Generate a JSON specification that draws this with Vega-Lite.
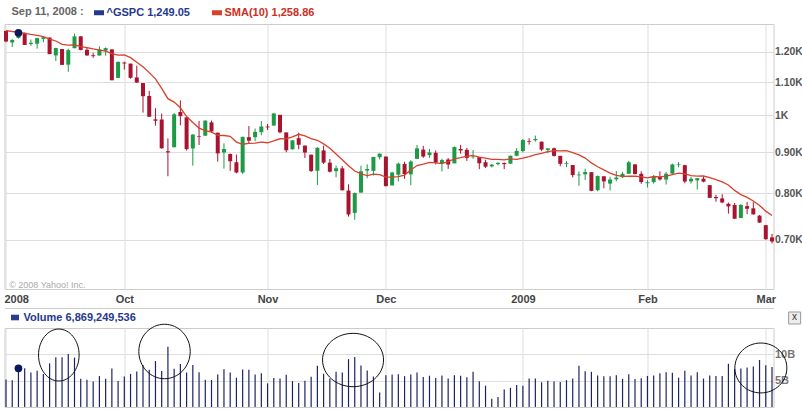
{
"$schema": "https://vega.github.io/schema/vega-lite/v6.json",
"background": "white",
"padding": {"left": 2.5, "top": 6, "right": 0, "bottom": 0},
"autosize": {"type": "pad"},
"bounds": "flush",
"spacing": 39,
"config": {
  "font": "Liberation Sans",
  "view": {"stroke": "#cccccc"},
  "axis": {"labelFont": "Liberation Sans", "labelFontSize": 11, "labelFontWeight": "bold", "labelColor": "#555555", "ticks": false, "domain": false, "gridColor": "#dddddd", "title": null}
},
"resolve": {"scale": {"x": "shared", "y": "independent", "color": "independent"}, "legend": {"color": "independent"}},
"datasets": {
"gspc": [
{"date":"2008-09-04","open":1275.0,"high":1275.0,"low":1234.4,"close":1236.83,"volume":5210000000,"sma":1276.28},
{"date":"2008-09-05","open":1233.2,"high":1244.9,"low":1217.2,"close":1242.31,"volume":5090000000,"sma":1272.74},
{"date":"2008-09-08","open":1249.5,"high":1274.4,"low":1247.1,"close":1267.79,"volume":7350000000,"sma":1270.30},
{"date":"2008-09-09","open":1267.9,"high":1268.7,"low":1224.5,"close":1224.51,"volume":7380000000,"sma":1266.07},
{"date":"2008-09-10","open":1227.5,"high":1243.9,"low":1221.6,"close":1232.04,"volume":6540000000,"sma":1262.12},
{"date":"2008-09-11","open":1229.0,"high":1249.98,"low":1211.5,"close":1249.05,"volume":6869249536,"sma":1258.86},
{"date":"2008-09-12","open":1245.9,"high":1255.1,"low":1233.8,"close":1251.70,"volume":6270000000,"sma":1253.96},
{"date":"2008-09-15","open":1250.9,"high":1250.9,"low":1192.7,"close":1192.70,"volume":8280000000,"sma":1244.95},
{"date":"2008-09-16","open":1188.3,"high":1214.8,"low":1169.3,"close":1213.60,"volume":9460000000,"sma":1238.55},
{"date":"2008-09-17","open":1210.3,"high":1210.3,"low":1155.9,"close":1156.39,"volume":9430000000,"sma":1226.69},
{"date":"2008-09-18","open":1157.1,"high":1211.1,"low":1133.5,"close":1206.51,"volume":10080000000,"sma":1223.66},
{"date":"2008-09-19","open":1213.1,"high":1265.1,"low":1213.1,"close":1255.08,"volume":9390000000,"sma":1224.94},
{"date":"2008-09-22","open":1255.4,"high":1255.4,"low":1205.6,"close":1207.09,"volume":5370000000,"sma":1218.87},
{"date":"2008-09-23","open":1207.6,"high":1214.0,"low":1187.2,"close":1188.22,"volume":5190000000,"sma":1215.24},
{"date":"2008-09-24","open":1188.8,"high":1197.4,"low":1179.8,"close":1185.87,"volume":4820000000,"sma":1210.62},
{"date":"2008-09-25","open":1187.9,"high":1220.0,"low":1187.9,"close":1209.18,"volume":5880000000,"sma":1206.63},
{"date":"2008-09-26","open":1204.5,"high":1215.8,"low":1187.5,"close":1213.27,"volume":5380000000,"sma":1202.79},
{"date":"2008-09-29","open":1209.1,"high":1209.1,"low":1106.4,"close":1106.39,"volume":7310000000,"sma":1194.16},
{"date":"2008-09-30","open":1113.8,"high":1168.0,"low":1113.8,"close":1166.36,"volume":4940000000,"sma":1189.44},
{"date":"2008-10-01","open":1164.2,"high":1167.0,"low":1140.8,"close":1161.06,"volume":5780000000,"sma":1189.90},
{"date":"2008-10-02","open":1160.6,"high":1160.6,"low":1111.4,"close":1114.28,"volume":6290000000,"sma":1180.68},
{"date":"2008-10-03","open":1115.2,"high":1153.8,"low":1098.1,"close":1099.23,"volume":6720000000,"sma":1165.10},
{"date":"2008-10-06","open":1097.6,"high":1097.6,"low":1008.0,"close":1056.89,"volume":7960000000,"sma":1150.08},
{"date":"2008-10-07","open":1057.6,"high":1072.9,"low":996.2,"close":996.23,"volume":7070000000,"sma":1130.88},
{"date":"2008-10-08","open":988.9,"high":1021.1,"low":971.0,"close":984.94,"volume":8720000000,"sma":1110.78},
{"date":"2008-10-09","open":988.4,"high":1005.3,"low":909.2,"close":909.92,"volume":6820000000,"sma":1080.86},
{"date":"2008-10-10","open":902.3,"high":936.4,"low":839.8,"close":899.22,"volume":11460000000,"sma":1049.45},
{"date":"2008-10-13","open":912.75,"high":1006.9,"low":912.75,"close":1003.35,"volume":7260000000,"sma":1039.15},
{"date":"2008-10-14","open":1010.0,"high":1044.3,"low":972.1,"close":998.01,"volume":8160000000,"sma":1022.31},
{"date":"2008-10-15","open":994.6,"high":994.6,"low":904.0,"close":907.84,"volume":6540000000,"sma":996.99},
{"date":"2008-10-16","open":909.5,"high":947.7,"low":865.8,"close":946.43,"volume":7980000000,"sma":980.21},
{"date":"2008-10-17","open":942.3,"high":984.6,"low":918.7,"close":940.55,"volume":6580000000,"sma":964.34},
{"date":"2008-10-20","open":943.5,"high":985.4,"low":943.5,"close":985.40,"volume":5180000000,"sma":957.19},
{"date":"2008-10-21","open":980.4,"high":985.4,"low":952.5,"close":955.05,"volume":5120000000,"sma":953.07},
{"date":"2008-10-22","open":951.7,"high":951.7,"low":875.8,"close":896.78,"volume":6150000000,"sma":944.26},
{"date":"2008-10-23","open":899.1,"high":922.8,"low":858.4,"close":908.11,"volume":7190000000,"sma":944.07},
{"date":"2008-10-24","open":895.2,"high":896.3,"low":852.9,"close":876.77,"volume":6550000000,"sma":941.83},
{"date":"2008-10-27","open":874.3,"high":893.8,"low":846.8,"close":848.92,"volume":5560000000,"sma":926.39},
{"date":"2008-10-28","open":848.9,"high":940.5,"low":845.3,"close":940.51,"volume":7100000000,"sma":920.64},
{"date":"2008-10-29","open":939.5,"high":970.0,"low":922.3,"close":930.09,"volume":7080000000,"sma":922.86},
{"date":"2008-10-30","open":939.4,"high":963.2,"low":928.5,"close":954.09,"volume":6180000000,"sma":923.63},
{"date":"2008-10-31","open":953.1,"high":984.4,"low":944.6,"close":968.75,"volume":6390000000,"sma":926.45},
{"date":"2008-11-03","open":968.7,"high":975.6,"low":958.8,"close":966.30,"volume":4490000000,"sma":924.54},
{"date":"2008-11-04","open":971.3,"high":1007.5,"low":971.3,"close":1005.75,"volume":5530000000,"sma":929.61},
{"date":"2008-11-05","open":1001.8,"high":1001.8,"low":949.9,"close":952.77,"volume":5430000000,"sma":935.21},
{"date":"2008-11-06","open":952.4,"high":952.4,"low":899.7,"close":904.88,"volume":6100000000,"sma":934.88},
{"date":"2008-11-07","open":907.4,"high":931.5,"low":906.9,"close":930.99,"volume":4930000000,"sma":940.31},
{"date":"2008-11-10","open":936.75,"high":951.95,"low":907.5,"close":919.21,"volume":4570000000,"sma":947.33},
{"date":"2008-11-11","open":917.15,"high":917.15,"low":884.9,"close":898.95,"volume":4990000000,"sma":943.18},
{"date":"2008-11-12","open":893.4,"high":893.4,"low":850.5,"close":852.30,"volume":5760000000,"sma":935.40},
{"date":"2008-11-13","open":853.1,"high":913.0,"low":818.7,"close":911.29,"volume":7850000000,"sma":931.12},
{"date":"2008-11-14","open":904.4,"high":916.9,"low":869.9,"close":873.29,"volume":6300000000,"sma":921.57},
{"date":"2008-11-17","open":873.2,"high":882.3,"low":849.0,"close":850.75,"volume":5400000000,"sma":910.02},
{"date":"2008-11-18","open":852.3,"high":865.9,"low":837.3,"close":859.12,"volume":6680000000,"sma":895.36},
{"date":"2008-11-19","open":859.0,"high":864.6,"low":806.2,"close":806.58,"volume":6550000000,"sma":880.74},
{"date":"2008-11-20","open":805.9,"high":820.5,"low":747.8,"close":752.44,"volume":9090000000,"sma":865.49},
{"date":"2008-11-21","open":755.8,"high":801.2,"low":741.0,"close":800.03,"volume":9500000000,"sma":852.40},
{"date":"2008-11-24","open":801.2,"high":865.6,"low":801.2,"close":851.81,"volume":7880000000,"sma":845.66},
{"date":"2008-11-25","open":853.4,"high":868.9,"low":835.0,"close":857.39,"volume":6950000000,"sma":841.50},
{"date":"2008-11-26","open":852.9,"high":887.7,"low":841.4,"close":887.68,"volume":5790000000,"sma":845.04},
{"date":"2008-11-28","open":886.9,"high":896.25,"low":881.2,"close":896.24,"volume":2740000000,"sma":843.53},
{"date":"2008-12-01","open":888.6,"high":888.6,"low":815.7,"close":816.21,"volume":6050000000,"sma":837.83},
{"date":"2008-12-02","open":817.9,"high":850.5,"low":817.9,"close":848.81,"volume":6170000000,"sma":837.63},
{"date":"2008-12-03","open":843.6,"high":873.1,"low":827.6,"close":870.74,"volume":6220000000,"sma":838.79},
{"date":"2008-12-04","open":869.75,"high":875.6,"low":833.6,"close":845.22,"volume":5860000000,"sma":842.66},
{"date":"2008-12-05","open":844.4,"high":879.4,"low":818.4,"close":876.07,"volume":6170000000,"sma":855.02},
{"date":"2008-12-08","open":882.7,"high":918.6,"low":882.7,"close":909.70,"volume":6550000000,"sma":865.99},
{"date":"2008-12-09","open":906.5,"high":916.3,"low":885.4,"close":888.67,"volume":5690000000,"sma":869.67},
{"date":"2008-12-10","open":892.2,"high":908.3,"low":885.45,"close":899.24,"volume":5940000000,"sma":873.86},
{"date":"2008-12-11","open":898.35,"high":904.6,"low":868.7,"close":873.59,"volume":5510000000,"sma":872.45},
{"date":"2008-12-12","open":871.8,"high":883.2,"low":851.35,"close":879.73,"volume":5960000000,"sma":870.80},
{"date":"2008-12-15","open":881.1,"high":884.6,"low":857.7,"close":868.57,"volume":5410000000,"sma":876.03},
{"date":"2008-12-16","open":871.5,"high":914.7,"low":871.5,"close":913.18,"volume":6010000000,"sma":882.47},
{"date":"2008-12-17","open":908.2,"high":918.85,"low":895.9,"close":904.42,"volume":5910000000,"sma":885.84},
{"date":"2008-12-18","open":905.98,"high":911.0,"low":877.4,"close":885.28,"volume":5670000000,"sma":889.85},
{"date":"2008-12-19","open":886.96,"high":905.5,"low":883.0,"close":887.88,"volume":6710000000,"sma":891.03},
{"date":"2008-12-22","open":887.2,"high":887.4,"low":857.1,"close":871.63,"volume":4870000000,"sma":887.22},
{"date":"2008-12-23","open":874.3,"high":880.4,"low":860.1,"close":863.16,"volume":4050000000,"sma":884.67},
{"date":"2008-12-24","open":863.9,"high":869.8,"low":861.4,"close":868.15,"volume":1550000000,"sma":881.56},
{"date":"2008-12-26","open":869.5,"high":873.7,"low":866.5,"close":872.80,"volume":1880000000,"sma":881.48},
{"date":"2008-12-29","open":872.4,"high":873.7,"low":857.1,"close":869.42,"volume":3320000000,"sma":880.45},
{"date":"2008-12-30","open":870.6,"high":891.1,"low":870.6,"close":890.64,"volume":3630000000,"sma":882.66},
{"date":"2008-12-31","open":890.6,"high":910.3,"low":889.4,"close":903.25,"volume":4170000000,"sma":881.66},
{"date":"2009-01-02","open":902.99,"high":934.7,"low":899.35,"close":931.80,"volume":4050000000,"sma":884.40},
{"date":"2009-01-05","open":929.2,"high":936.6,"low":919.5,"close":927.45,"volume":5410000000,"sma":888.62},
{"date":"2009-01-06","open":931.2,"high":943.85,"low":927.3,"close":934.70,"volume":5390000000,"sma":893.30},
{"date":"2009-01-07","open":927.45,"high":927.45,"low":902.4,"close":906.65,"volume":4700000000,"sma":896.80},
{"date":"2009-01-08","open":905.7,"high":910.0,"low":896.8,"close":909.73,"volume":4990000000,"sma":901.46},
{"date":"2009-01-09","open":909.9,"high":911.9,"low":888.3,"close":890.35,"volume":4830000000,"sma":903.68},
{"date":"2009-01-12","open":890.4,"high":890.4,"low":864.3,"close":870.26,"volume":4730000000,"sma":903.43},
{"date":"2009-01-13","open":869.8,"high":877.0,"low":862.0,"close":871.79,"volume":5100000000,"sma":903.66},
{"date":"2009-01-14","open":867.3,"high":867.3,"low":836.9,"close":842.62,"volume":5410000000,"sma":898.86},
{"date":"2009-01-15","open":841.99,"high":851.6,"low":817.0,"close":843.74,"volume":7810000000,"sma":892.91},
{"date":"2009-01-16","open":844.45,"high":858.1,"low":830.7,"close":850.12,"volume":6790000000,"sma":884.74},
{"date":"2009-01-20","open":849.6,"high":849.6,"low":804.5,"close":805.22,"volume":6680000000,"sma":872.52},
{"date":"2009-01-21","open":806.8,"high":841.7,"low":804.3,"close":840.24,"volume":6000000000,"sma":863.07},
{"date":"2009-01-22","open":839.7,"high":839.7,"low":811.3,"close":827.50,"volume":5840000000,"sma":855.16},
{"date":"2009-01-23","open":822.2,"high":838.6,"low":806.1,"close":831.95,"volume":5850000000,"sma":847.38},
{"date":"2009-01-26","open":832.5,"high":852.5,"low":827.7,"close":836.57,"volume":6040000000,"sma":842.00},
{"date":"2009-01-27","open":837.3,"high":850.45,"low":835.4,"close":845.71,"volume":5350000000,"sma":839.55},
{"date":"2009-01-28","open":845.7,"high":877.9,"low":845.7,"close":874.09,"volume":6200000000,"sma":839.78},
{"date":"2009-01-29","open":868.9,"high":868.9,"low":844.15,"close":845.14,"volume":5300000000,"sma":840.03},
{"date":"2009-01-30","open":845.7,"high":851.7,"low":821.7,"close":825.88,"volume":5450000000,"sma":838.24},
{"date":"2009-02-02","open":823.1,"high":830.8,"low":812.9,"close":825.44,"volume":5900000000,"sma":835.77},
{"date":"2009-02-03","open":825.7,"high":842.6,"low":821.98,"close":838.51,"volume":6000000000,"sma":839.10},
{"date":"2009-02-04","open":837.8,"high":851.85,"low":829.2,"close":832.23,"volume":6420000000,"sma":838.30},
{"date":"2009-02-05","open":831.75,"high":850.55,"low":819.9,"close":845.85,"volume":6620000000,"sma":840.14},
{"date":"2009-02-06","open":846.1,"high":870.75,"low":845.4,"close":868.60,"volume":6480000000,"sma":843.80},
{"date":"2009-02-09","open":868.2,"high":875.0,"low":861.65,"close":869.89,"volume":5570000000,"sma":847.13},
{"date":"2009-02-10","open":866.9,"high":868.05,"low":822.99,"close":827.16,"volume":6900000000,"sma":845.28},
{"date":"2009-02-11","open":827.4,"high":838.2,"low":822.3,"close":833.74,"volume":6000000000,"sma":841.24},
{"date":"2009-02-12","open":829.9,"high":835.5,"low":808.1,"close":835.19,"volume":6600000000,"sma":840.25},
{"date":"2009-02-13","open":833.95,"high":839.4,"low":825.2,"close":826.84,"volume":5400000000,"sma":840.35},
{"date":"2009-02-17","open":818.6,"high":818.6,"low":789.2,"close":789.17,"volume":6000000000,"sma":836.72},
{"date":"2009-02-18","open":791.1,"high":796.2,"low":780.4,"close":788.42,"volume":5900000000,"sma":831.71},
{"date":"2009-02-19","open":787.9,"high":797.6,"low":777.03,"close":778.94,"volume":5900000000,"sma":826.38},
{"date":"2009-02-20","open":775.9,"high":778.7,"low":754.25,"close":770.05,"volume":8210000000,"sma":818.80},
{"date":"2009-02-23","open":773.25,"high":777.85,"low":742.4,"close":743.33,"volume":7230000000,"sma":806.27},
{"date":"2009-02-24","open":744.7,"high":775.5,"low":744.7,"close":773.14,"volume":7300000000,"sma":796.60},
{"date":"2009-02-25","open":770.6,"high":780.1,"low":752.9,"close":764.90,"volume":7500000000,"sma":790.37},
{"date":"2009-02-26","open":765.8,"high":779.4,"low":751.75,"close":752.83,"volume":7700000000,"sma":782.28},
{"date":"2009-02-27","open":749.9,"high":751.3,"low":734.5,"close":735.09,"volume":8930000000,"sma":772.27},
{"date":"2009-03-02","open":729.6,"high":729.6,"low":699.7,"close":700.82,"volume":7950000000,"sma":759.67},
{"date":"2009-03-03","open":704.4,"high":711.7,"low":692.3,"close":696.33,"volume":7580000000,"sma":750.39}
]
},
"vconcat": [
{
  "width": 769,
  "height": 265,
  "data": {"name": "gspc"},
  "encoding": {
    "x": {"field": "date", "type": "ordinal", "scale": {"type": "point", "padding": 0.24},
      "axis": {"orient": "bottom", "values": ["2008-09-04","2008-10-01","2008-11-03","2008-12-01","2009-01-02","2009-02-02","2009-03-02"],
        "labelExpr": "datum.value == '2008-09-04' ? '2008' : datum.value == '2008-10-01' ? 'Oct' : datum.value == '2008-11-03' ? 'Nov' : datum.value == '2008-12-01' ? 'Dec' : datum.value == '2009-01-02' ? '2009' : datum.value == '2009-02-02' ? 'Feb' : 'Mar'",
        "grid": true, "labelAngle": 0, "labelPadding": 4, "labelFlush": 4, "labelFlushOffset": 2, "labelColor": "#444444"}}
  },
  "layer": [
    {
      "mark": {"type": "rule", "strokeWidth": 1},
      "encoding": {
        "y": {"field": "low", "type": "quantitative",
          "scale": {"type": "log", "domain": [607.4, 1300.5], "nice": false, "zero": false},
          "axis": {"orient": "right", "values": [700, 800, 900, 1000, 1100, 1200],
            "labelExpr": "datum.value == 1000 ? '1K' : format(datum.value / 1000, '.2f') + 'K'",
            "grid": true, "labelPadding": 1, "labelFontSize": 10.4}},
        "y2": {"field": "high"},
        "color": {"condition": {"test": "datum.close >= datum.open", "value": "#1c9a45"}, "value": "#a8132f"}
      }
    },
    {
      "mark": {"type": "rule", "strokeWidth": 4},
      "encoding": {
        "y": {"field": "open", "type": "quantitative"},
        "y2": {"field": "close"},
        "color": {"condition": {"test": "datum.close >= datum.open", "value": "#1c9a45"}, "value": "#a8132f"}
      }
    },
    {
      "mark": {"type": "line", "strokeWidth": 1.3},
      "encoding": {
        "y": {"field": "sma", "type": "quantitative"},
        "color": {"datum": "SMA(10)", "type": "nominal",
          "scale": {"domain": ["^GSPC", "SMA(10)"], "range": ["#25398c", "#d8412d"]},
          "legend": {"orient": "none", "legendX": 7, "legendY": -17, "direction": "horizontal",
            "title": "Sep 11, 2008 :", "titleOrient": "left", "titleFont": "Liberation Sans", "titleFontSize": 11, "titleFontWeight": "bold", "titleColor": "#666666", "titlePadding": 9,
            "symbolType": "M -1 -0.5 H 1 V 0.5 H -1 Z", "symbolSize": 100,
            "labelFont": "Liberation Sans", "labelFontSize": 11, "labelFontWeight": "bold", "labelOffset": 2, "columnPadding": 18, "labelLimit": 300,
            "labelExpr": "datum.label == '^GSPC' ? '^GSPC  1,249.05' : 'SMA(10)  1,258.86'",
            "encode": {
              "labels": {"update": {"fill": {"signal": "datum.value == 'SMA(10)' ? '#cc2f22' : '#25398c'"}}},
              "symbols": {"update": {"fill": {"signal": "datum.value == 'SMA(10)' ? '#d8412d' : '#25398c'"}, "stroke": {"value": "transparent"}, "strokeWidth": {"value": 0}, "opacity": {"value": 1}}}
            }}
        }
      }
    },
    {
      "transform": [{"filter": "datum.date == '2008-09-08'"}],
      "mark": {"type": "point", "filled": true, "size": 60, "color": "#0b185c", "opacity": 1},
      "encoding": {"y": {"field": "close", "type": "quantitative"}}
    },
    {
      "data": {"values": [{}]},
      "mark": {"type": "text", "align": "left", "baseline": "middle", "fontSize": 9, "font": "Liberation Sans", "color": "#aaaaaa", "dx": -3},
      "encoding": {
        "x": {"datum": "2008-09-05", "type": "ordinal"},
        "y": {"datum": 615, "type": "quantitative"},
        "text": {"value": "© 2008 Yahoo! Inc."}
      }
    }
  ]
},
{
  "width": 769,
  "height": 79,
  "data": {"name": "gspc"},
  "encoding": {
    "x": {"field": "date", "type": "ordinal", "scale": {"type": "point", "padding": 0.24},
      "axis": {"orient": "top", "values": ["2008-09-04","2008-10-01","2008-11-03","2008-12-01","2009-01-02","2009-02-02","2009-03-02"],
        "labels": false, "grid": true, "domain": true, "domainColor": "#cccccc", "offset": 20}}
  },
  "layer": [
    {
      "mark": {"type": "rule", "strokeWidth": 1.2},
      "encoding": {
        "y": {"field": "volume", "type": "quantitative",
          "scale": {"domain": [0, 15000000000], "nice": false},
          "axis": {"orient": "right", "values": [5000000000, 10000000000],
            "labelExpr": "datum.value == 10000000000 ? '10B' : '5B'",
            "grid": true, "labelPadding": 1, "labelColor": "#777777"}},
        "y2": {"datum": 0},
        "color": {"datum": "Volume", "type": "nominal",
          "scale": {"domain": ["Volume"], "range": ["#1c2363"]},
          "legend": {"orient": "none", "legendX": 5, "legendY": -16, "direction": "horizontal", "title": null,
            "symbolType": "M -1 -0.7 H 1 V 0.7 H -1 Z", "symbolSize": 64,
            "labelFont": "Liberation Sans", "labelFontSize": 11, "labelFontWeight": "bold", "labelOffset": 3, "labelLimit": 300,
            "labelExpr": "'Volume  6,869,249,536'",
            "encode": {"labels": {"update": {"fill": {"value": "#25398c"}}}, "symbols": {"update": {"fill": {"value": "#2a3c90"}, "stroke": {"value": "transparent"}, "strokeWidth": {"value": 0}, "opacity": {"value": 1}}}}}
        }
      }
    },
    {
      "transform": [{"filter": "datum.date == '2008-09-08'"}],
      "mark": {"type": "point", "filled": true, "size": 60, "color": "#0b185c", "opacity": 1},
      "encoding": {"y": {"field": "volume", "type": "quantitative"}}
    },
    {
      "data": {"values": [{}]},
      "mark": {"type": "point", "shape": "M -0.852 0 A 1 1.28 0 1 1 1.148 0 A 1 1.28 0 1 1 -0.852 0 Z", "size": 1648, "filled": false, "stroke": "#111111", "strokeWidth": 1, "opacity": 1},
      "encoding": {"x": {"datum": "2008-09-16", "type": "ordinal"}, "y": {"datum": 9870000000, "type": "quantitative"}}
    },
    {
      "data": {"values": [{}]},
      "mark": {"type": "point", "shape": "M -1.132 0 A 1 1.06 0 1 1 0.868 0 A 1 1.06 0 1 1 -1.132 0 Z", "size": 2642, "filled": false, "stroke": "#111111", "strokeWidth": 1, "opacity": 1},
      "encoding": {"x": {"datum": "2008-10-10", "type": "ordinal"}, "y": {"datum": 10540000000, "type": "quantitative"}}
    },
    {
      "data": {"values": [{}]},
      "mark": {"type": "point", "shape": "M -1.056 0 A 1 0.875 0 1 1 0.944 0 A 1 0.875 0 1 1 -1.056 0 Z", "size": 3721, "filled": false, "stroke": "#111111", "strokeWidth": 1, "opacity": 1},
      "encoding": {"x": {"datum": "2008-11-21", "type": "ordinal"}, "y": {"datum": 8920000000, "type": "quantitative"}}
    },
    {
      "data": {"values": [{}]},
      "mark": {"type": "point", "shape": "M -0.95 0 A 1 0.96 0 1 1 1.05 0 A 1 0.96 0 1 1 -0.95 0 Z", "size": 2704, "filled": false, "stroke": "#111111", "strokeWidth": 1, "opacity": 1},
      "encoding": {"x": {"datum": "2009-02-27", "type": "ordinal"}, "y": {"datum": 7410000000, "type": "quantitative"}}
    },
    {
      "data": {"values": [{}]},
      "mark": {"type": "point", "shape": "M 2.77 -1 H 4.77 V 1 H 2.77 Z", "size": 144, "filled": true, "fill": "#eeeeee", "stroke": "#999999", "strokeWidth": 1, "opacity": 1},
      "encoding": {"x": {"datum": "2009-03-03", "type": "ordinal"}, "y": {"datum": 16900000000, "type": "quantitative"}}
    },
    {
      "data": {"values": [{}]},
      "mark": {"type": "text", "align": "center", "baseline": "middle", "fontSize": 10, "font": "Liberation Sans", "color": "#333333", "dx": 22.6, "dy": -1},
      "encoding": {"x": {"datum": "2009-03-03", "type": "ordinal"}, "y": {"datum": 16900000000, "type": "quantitative"}, "text": {"value": "x"}}
    }
  ]
}
]
}
